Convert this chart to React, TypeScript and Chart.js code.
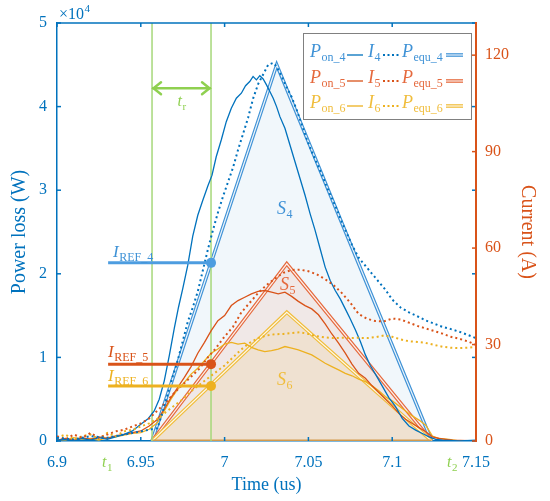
import React, { useEffect, useRef } from "react";
import { Chart, registerables } from "chart.js";

Chart.register(...registerables);

// ---------------- data ----------------
const xTicks = [6.9, 6.95, 7, 7.05, 7.1, 7.15];
const powerTicks = [0, 1, 2, 3, 4, 5];
const currentTicks = [0, 30, 60, 90, 120];

const t1 = 6.9567;
const tr = 6.9919;
const t2 = 7.1235;
const arrowLevel = 4.22;

// P_on_4 (x10^4 W)
const p4Time = [6.900,6.905,6.910,6.915,6.920,6.925,6.930,6.935,6.940,6.945,6.950,6.9545,6.958,6.961,6.964,6.967,6.970,6.9725,6.975,6.978,6.981,6.984,6.987,6.990,6.9925,6.995,6.998,7.001,7.004,7.007,7.010,7.0125,7.015,7.017,7.019,7.021,7.023,7.025,7.027,7.029,7.031,7.033,7.036,7.039,7.042,7.045,7.048,7.051,7.054,7.057,7.060,7.063,7.066,7.069,7.072,7.075,7.078,7.081,7.084,7.087,7.090,7.094,7.098,7.102,7.106,7.110,7.114,7.118,7.122,7.126,7.130,7.140,7.150];
const p4Power = [0.01,0.02,0.00,0.03,0.01,0.04,0.02,0.05,0.08,0.12,0.20,0.27,0.36,0.50,0.72,1.02,1.35,1.60,1.82,2.10,2.45,2.70,2.88,3.05,3.18,3.40,3.60,3.82,3.98,4.10,4.16,4.25,4.30,4.36,4.32,4.37,4.33,4.26,4.18,4.10,4.00,3.88,3.74,3.54,3.34,3.14,2.94,2.72,2.52,2.30,2.08,1.92,1.80,1.70,1.58,1.46,1.33,1.19,1.03,0.90,0.80,0.66,0.52,0.41,0.27,0.18,0.13,0.09,0.05,0.02,0.01,0.00,0.01];

// P_on_5
const p5Time = [6.900,6.905,6.910,6.915,6.920,6.925,6.930,6.935,6.940,6.945,6.950,6.955,6.960,6.964,6.968,6.972,6.976,6.980,6.984,6.988,6.992,6.996,7.000,7.004,7.008,7.012,7.016,7.020,7.024,7.028,7.032,7.036,7.040,7.044,7.048,7.052,7.056,7.060,7.064,7.068,7.072,7.076,7.080,7.084,7.088,7.092,7.096,7.100,7.104,7.108,7.112,7.116,7.120,7.124,7.128,7.132,7.136,7.150];
const p5Power = [0.01,0.03,0.01,0.04,0.02,0.05,0.03,0.06,0.08,0.10,0.12,0.18,0.26,0.38,0.52,0.64,0.76,0.89,1.05,1.18,1.32,1.44,1.50,1.62,1.68,1.72,1.76,1.79,1.80,1.78,1.76,1.78,1.73,1.67,1.62,1.58,1.51,1.40,1.28,1.17,1.05,0.92,0.81,0.75,0.66,0.58,0.50,0.42,0.33,0.26,0.21,0.16,0.11,0.05,0.03,0.02,0.01,0.00];

// P_on_6
const p6Time = [6.900,6.905,6.910,6.915,6.920,6.925,6.930,6.935,6.940,6.945,6.950,6.955,6.960,6.964,6.968,6.972,6.976,6.980,6.984,6.988,6.992,6.996,7.000,7.004,7.008,7.012,7.016,7.020,7.024,7.028,7.032,7.036,7.040,7.044,7.048,7.052,7.056,7.060,7.064,7.068,7.072,7.076,7.080,7.084,7.088,7.092,7.096,7.100,7.104,7.108,7.112,7.116,7.120,7.124,7.128,7.134,7.140];
const p6Power = [0.02,0.01,0.04,0.02,0.03,0.01,0.04,0.05,0.07,0.09,0.10,0.14,0.22,0.36,0.50,0.62,0.70,0.80,0.87,0.96,1.05,1.10,1.16,1.18,1.16,1.17,1.12,1.09,1.07,1.08,1.10,1.13,1.11,1.09,1.06,1.03,0.98,0.93,0.89,0.85,0.81,0.78,0.74,0.71,0.66,0.60,0.53,0.48,0.42,0.36,0.30,0.25,0.19,0.06,0.03,0.02,0.00];

// I_4 (A)
const i4Time = [6.900,6.910,6.920,6.930,6.940,6.945,6.950,6.955,6.960,6.963,6.966,6.969,6.972,6.975,6.978,6.981,6.984,6.987,6.990,6.993,6.996,6.999,7.002,7.005,7.008,7.011,7.014,7.017,7.020,7.023,7.026,7.029,7.031,7.034,7.037,7.040,7.043,7.046,7.049,7.052,7.055,7.058,7.061,7.064,7.067,7.070,7.073,7.076,7.080,7.084,7.088,7.092,7.096,7.100,7.105,7.110,7.115,7.120,7.125,7.130,7.135,7.140,7.145,7.150];
const i4Current = [1.0,0.5,1.5,1.0,2.0,2.5,3.0,3.5,4.0,9.0,14.5,20,25,31,37,41.5,46.5,53,59.5,65.5,71,76,80.5,85,90.5,95.5,100.5,106.5,111,114,117,117.6,116.5,113.5,110,107,103,98.5,94,90,86.5,83,79,75.5,72,68,64.5,61,57,54.5,52,49.5,47,44,41.5,40,38.8,37.5,36.5,35.5,34.8,34,33,32];

// I_5 and I_6 (A)
const i56Time = [6.900,6.905,6.910,6.915,6.920,6.925,6.930,6.935,6.940,6.945,6.950,6.955,6.960,6.965,6.970,6.975,6.980,6.985,6.990,6.995,7.000,7.005,7.010,7.015,7.020,7.025,7.030,7.035,7.040,7.045,7.050,7.055,7.060,7.065,7.070,7.075,7.080,7.085,7.090,7.095,7.100,7.105,7.110,7.115,7.120,7.125,7.130,7.135,7.140,7.145,7.150];
const i5Current = [1.5,0.5,2.0,1.0,2.5,1.0,2.0,3.0,3.5,4.5,5.5,7.0,9.5,12,15,17.5,20,22.5,26,29,32.5,35.5,40,43,46,48.5,50.5,52.3,53.2,53.3,52.8,51.8,50.3,48.5,46,43,39.5,38,37.3,37.2,38.1,37.8,36.8,35.8,35,34.2,33.4,32.4,31.8,31,29.9];
const i6Current = [1.0,2.0,0.5,1.5,2.0,0.5,2.5,1.5,3.0,3.5,4.5,5.5,7.0,9.0,11,13,15.5,17.5,19.5,21.5,23.5,26,28.5,30.5,32,32.8,33.2,33.3,33.6,33.8,33.3,32.6,32.2,32.0,32.1,32.0,32.1,32.0,32.3,32.8,32.4,31.6,31.0,30.8,30.5,29.9,29.3,29.0,28.9,29.0,29.3];

// equivalent triangles P_equ
const equ4Time = [t1, 7.0311, t2];
const equ4Power = [0, 4.5, 0];
const equ56Time = [t1, 7.0371, t2];
const equ5Power = [0, 2.12, 0];
const equ6Power = [0, 1.54, 0];

// reference currents
const irefStart = 6.9305;
const iref4 = 55.4;
const iref5 = 23.9;
const iref6 = 17.1;

// ---------------- style ----------------
const BLUE = "#0072BD";
const ORANGE = "#D95319";
const YELLOW = "#EDB120";
const BLUE_L = "#3f92d6";
const ORANGE_L = "#e5693d";
const YELLOW_L = "#f0bd3c";
const GREEN = "#a6d87a";
const GREEN_A = "#8fd050";
const FONT = '"Liberation Serif", "Times New Roman", serif';

const pts = (xs: number[], ys: number[]) => xs.map((x, i) => ({ x, y: ys[i] }));

function seg(ctx: CanvasRenderingContext2D, x1: number, y1: number, x2: number, y2: number) {
  ctx.beginPath();
  ctx.moveTo(x1, y1);
  ctx.lineTo(x2, y2);
  ctx.stroke();
}

function subText(ctx: CanvasRenderingContext2D, x: number, y: number, main: string, sub: string, color: string, size: number, subSize: number) {
  ctx.fillStyle = color;
  ctx.textAlign = "left";
  ctx.textBaseline = "alphabetic";
  ctx.font = `italic ${size}px ${FONT}`;
  ctx.fillText(main, x, y);
  const w = ctx.measureText(main).width;
  ctx.font = `${subSize}px ${FONT}`;
  ctx.fillText(sub, x + w + 0.5, y + Math.round(subSize * 0.33));
  return x + w + 0.5 + ctx.measureText(sub).width;
}

const overlayPlugin = {
  id: "overlay",
  afterDraw(chart: any) {
    const ctx: CanvasRenderingContext2D = chart.ctx;
    const { left, right, top, bottom } = chart.chartArea;
    const xs = chart.scales.x;
    const ys = chart.scales.y;
    const y1 = chart.scales.y1;
    ctx.save();

    // frame and inward ticks
    ctx.lineWidth = 1.5;
    ctx.strokeStyle = BLUE;
    seg(ctx, left, top, right, top);
    for (const v of xTicks) {
      const px = xs.getPixelForValue(v);
      seg(ctx, px, bottom, px, bottom - 4);
      seg(ctx, px, top, px, top + 4);
    }
    for (const v of powerTicks) {
      const py = ys.getPixelForValue(v);
      seg(ctx, left, py, left + 4, py);
      seg(ctx, right, py, right - 4, py);
    }
    ctx.strokeStyle = ORANGE;
    for (const v of currentTicks) {
      const py = y1.getPixelForValue(v);
      seg(ctx, right, py, right - 4, py);
    }
    ctx.lineWidth = 2;
    seg(ctx, right, top - 1, right, bottom + 1);

    // x10^4
    ctx.fillStyle = BLUE;
    ctx.textBaseline = "alphabetic";
    ctx.textAlign = "left";
    ctx.font = `16px ${FONT}`;
    ctx.fillText("\u00d710", left + 2, 19);
    const w10 = ctx.measureText("\u00d710").width;
    ctx.font = `11px ${FONT}`;
    ctx.fillText("4", left + 2 + w10 + 0.5, 12);

    // t_r arrow
    const ax1 = xs.getPixelForValue(t1);
    const ax2 = xs.getPixelForValue(tr);
    const ay = ys.getPixelForValue(arrowLevel);
    ctx.strokeStyle = GREEN_A;
    ctx.lineWidth = 2.5;
    ctx.lineCap = "round";
    seg(ctx, ax1 + 1, ay, ax2 - 1, ay);
    ctx.beginPath();
    ctx.moveTo(ax1 + 9, ay - 6);
    ctx.lineTo(ax1 + 1.5, ay);
    ctx.lineTo(ax1 + 9, ay + 6);
    ctx.stroke();
    ctx.beginPath();
    ctx.moveTo(ax2 - 9, ay - 6);
    ctx.lineTo(ax2 - 1.5, ay);
    ctx.lineTo(ax2 - 9, ay + 6);
    ctx.stroke();
    ctx.lineCap = "butt";
    subText(ctx, (ax1 + ax2) / 2 - 4, ay + 18, "t", "r", GREEN_A, 16, 11);

    // t1 / t2 labels under axis
    subText(ctx, 102, 467, "t", "1", GREEN_A, 16, 11);
    subText(ctx, 447, 467, "t", "2", GREEN_A, 16, 11);

    // S labels
    subText(ctx, 277, 214, "S", "4", BLUE_L, 18, 12);
    subText(ctx, 280, 290, "S", "5", ORANGE_L, 18, 12);
    subText(ctx, 277, 385, "S", "6", YELLOW_L, 18, 12);

    // I_REF labels
    subText(ctx, 113, 257, "I", "REF_4", BLUE_L, 17, 12);
    subText(ctx, 108, 357, "I", "REF_5", ORANGE, 17, 12);
    subText(ctx, 108, 381, "I", "REF_6", YELLOW, 17, 12);

    // legend
    ctx.fillStyle = "#ffffff";
    ctx.fillRect(303, 33, 168, 86);
    ctx.strokeStyle = "#808080";
    ctx.lineWidth = 1;
    ctx.strokeRect(303.5, 33.5, 168, 86);
    const rows = [
      { c: BLUE_L, line: BLUE, dbl: BLUE_L, n: "4", base: 57, ly: 55 },
      { c: ORANGE_L, line: ORANGE, dbl: ORANGE_L, n: "5", base: 83, ly: 81 },
      { c: YELLOW_L, line: YELLOW, dbl: YELLOW_L, n: "6", base: 108, ly: 106 },
    ];
    for (const r of rows) {
      subText(ctx, 310, r.base, "P", "on_" + r.n, r.c, 18, 12);
      ctx.strokeStyle = r.line;
      ctx.lineWidth = 1.3;
      seg(ctx, 347, r.ly, 363, r.ly);
      subText(ctx, 368, r.base, "I", r.n, r.c, 18, 12);
      ctx.setLineDash([2, 2.5]);
      ctx.lineWidth = 2;
      seg(ctx, 383, r.ly, 400, r.ly);
      ctx.setLineDash([]);
      subText(ctx, 402, r.base, "P", "equ_" + r.n, r.c, 18, 12);
      ctx.strokeStyle = r.dbl;
      ctx.lineWidth = 3.6;
      seg(ctx, 446, r.ly, 463, r.ly);
      ctx.strokeStyle = "rgba(255,255,255,0.9)";
      ctx.lineWidth = 1.2;
      seg(ctx, 446, r.ly, 463, r.ly);
    }
    ctx.restore();
  },
};

export default function App() {
  const ref = useRef<HTMLCanvasElement | null>(null);

  useEffect(() => {
    if (!ref.current) return;
    const tri = (label: string, xs: number[], ys: number[], color: string, fillColor: string, order: number) => [
      { label, data: pts(xs, ys), yAxisID: "y", borderColor: color, borderWidth: 3.6, backgroundColor: fillColor, fill: "origin", order },
      { label: label + " inner", data: pts(xs, ys), yAxisID: "y", borderColor: "rgba(255,255,255,0.9)", borderWidth: 1.2, fill: false, order: order - 1 },
    ];
    const iref = (label: string, v: number, color: string, order: number) => ({
      label,
      data: pts([irefStart, tr], [v, v]),
      yAxisID: "y1",
      borderColor: color,
      borderWidth: 3,
      pointRadius: [0, 5],
      pointBackgroundColor: color,
      pointBorderWidth: 0,
      fill: false,
      order,
    });
    const datasets: any[] = [
      ...tri("P_equ_4", equ4Time, equ4Power, BLUE_L, "rgba(0,114,189,0.055)", 40),
      ...tri("P_equ_5", equ56Time, equ5Power, ORANGE_L, "rgba(217,83,25,0.09)", 38),
      ...tri("P_equ_6", equ56Time, equ6Power, YELLOW_L, "rgba(237,177,32,0.11)", 36),
      { label: "base", data: pts([t1, t2], [0, 0]), yAxisID: "y", borderColor: "#d39a4c", borderWidth: 3, fill: false, order: 34 },
      { label: "t1", data: pts([t1, t1], [0, 5]), yAxisID: "y", borderColor: GREEN, borderWidth: 1.5, fill: false, order: 33 },
      { label: "tr", data: pts([tr, tr], [0, 5]), yAxisID: "y", borderColor: GREEN, borderWidth: 1.5, fill: false, order: 32 },
      { label: "P_on_6", data: pts(p6Time, p6Power), yAxisID: "y", borderColor: YELLOW, borderWidth: 1.3, fill: false, order: 20 },
      { label: "P_on_5", data: pts(p5Time, p5Power), yAxisID: "y", borderColor: ORANGE, borderWidth: 1.3, fill: false, order: 19 },
      { label: "P_on_4", data: pts(p4Time, p4Power), yAxisID: "y", borderColor: BLUE, borderWidth: 1.3, fill: false, order: 18 },
      { label: "I_6", data: pts(i56Time, i6Current), yAxisID: "y1", borderColor: YELLOW, borderWidth: 2, borderDash: [2, 3], fill: false, order: 12 },
      { label: "I_5", data: pts(i56Time, i5Current), yAxisID: "y1", borderColor: ORANGE, borderWidth: 2, borderDash: [2, 3], fill: false, order: 11 },
      { label: "I_4", data: pts(i4Time, i4Current), yAxisID: "y1", borderColor: BLUE, borderWidth: 2, borderDash: [2, 3], fill: false, order: 10 },
      iref("IREF_6", iref6, YELLOW, 3),
      iref("IREF_5", iref5, ORANGE, 2),
      iref("IREF_4", iref4, "#4d9de0", 1),
    ];

    const chart = new Chart(ref.current, {
      type: "line",
      data: { datasets },
      options: {
        responsive: false,
        animation: false,
        events: [],
        layout: { padding: { top: 23, left: 0, right: 0, bottom: 0 } },
        elements: { point: { radius: 0 }, line: { tension: 0 } },
        plugins: { legend: { display: false }, tooltip: { enabled: false } },
        scales: {
          x: {
            type: "linear",
            min: 6.9,
            max: 7.15,
            afterBuildTicks: (s: any) => { s.ticks = xTicks.map((v) => ({ value: v })); },
            afterFit: (s: any) => { s.height = 60; },
            grid: { display: false, drawTicks: false },
            border: { display: true, color: BLUE, width: 1.5 },
            ticks: { color: BLUE, font: { family: FONT, size: 16 }, padding: 12, maxRotation: 0, autoSkip: false, callback: (v: any) => String(v) },
            title: { display: true, text: "Time (us)", color: BLUE, font: { family: FONT, size: 18 }, padding: { top: 0, bottom: 5 } },
          },
          y: {
            type: "linear",
            position: "left",
            min: 0,
            max: 5,
            afterBuildTicks: (s: any) => { s.ticks = powerTicks.map((v) => ({ value: v })); },
            afterFit: (s: any) => { s.width = 57; },
            grid: { display: false, drawTicks: false },
            border: { display: true, color: BLUE, width: 1.5 },
            ticks: { color: BLUE, font: { family: FONT, size: 16 }, padding: 10, callback: (v: any) => String(v) },
            title: { display: true, text: "Power loss (W)", color: BLUE, font: { family: FONT, size: 20 }, padding: { top: 8, bottom: 0 } },
          },
          y1: {
            type: "linear",
            position: "right",
            min: 0,
            max: 130,
            afterBuildTicks: (s: any) => { s.ticks = currentTicks.map((v) => ({ value: v })); },
            afterFit: (s: any) => { s.width = 74; },
            grid: { display: false, drawTicks: false },
            border: { display: true, color: ORANGE, width: 2 },
            ticks: { color: ORANGE, font: { family: FONT, size: 16 }, padding: 9, callback: (v: any) => String(v) },
            title: { display: true, text: "Current (A)", color: ORANGE, font: { family: FONT, size: 20 }, padding: { top: 11, bottom: 0 } },
          },
        },
      },
      plugins: [overlayPlugin],
    } as any);
    return () => chart.destroy();
  }, []);

  return (
    <div style={{ position: "fixed", left: 0, top: 0, width: 550, height: 501, background: "#fff" }}>
      <canvas ref={ref} width={550} height={501} style={{ width: 550, height: 501, display: "block" }} />
    </div>
  );
}
